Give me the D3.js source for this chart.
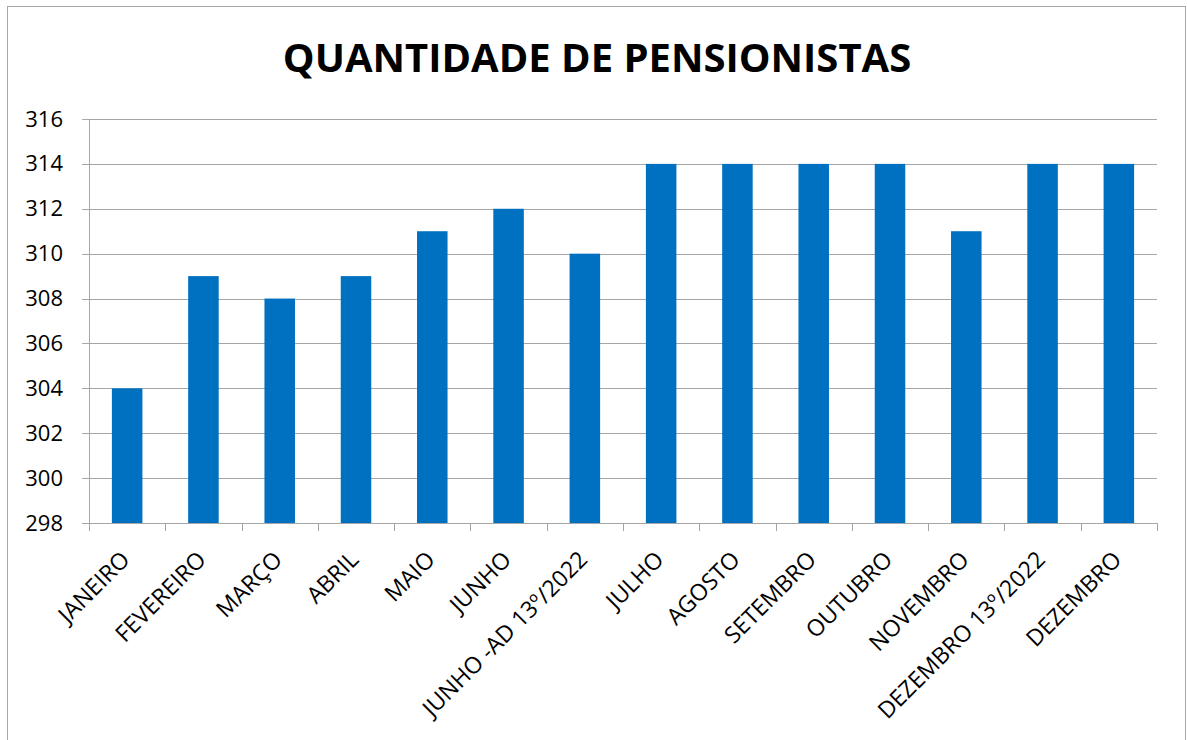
<!DOCTYPE html>
<html>
<head>
<meta charset="utf-8">
<script src="https://cdn.jsdelivr.net/npm/d3@7.9.0/dist/d3.min.js"></script>
<style>
  body { margin: 0; background: #fff; }
  text { font-family: "Open Sans", sans-serif; fill: #000; }
</style>
</head>
<body>
<div id="chart"></div>
<script>
const title = 'QUANTIDADE DE PENSIONISTAS';
const months = ['JANEIRO', 'FEVEREIRO', 'MARÇO', 'ABRIL', 'MAIO', 'JUNHO', 'JUNHO -AD 13º/2022',
  'JULHO', 'AGOSTO', 'SETEMBRO', 'OUTUBRO', 'NOVEMBRO', 'DEZEMBRO 13º/2022', 'DEZEMBRO'];
const pensionistas = [304, 309, 308, 309, 311, 312, 310, 314, 314, 314, 314, 311, 314, 314];
const yTicks = [298, 300, 302, 304, 306, 308, 310, 312, 314, 316];

const width = 1187;
const height = 740;
const margin = { top: 119, right: 30, bottom: 217, left: 89 };
const innerWidth = width - margin.left - margin.right;
const innerHeight = height - margin.top - margin.bottom;

const svg = d3.select('#chart')
  .append('svg')
  .attr('width', width)
  .attr('height', height);

// outer frame
svg.append('rect')
  .attr('x', 7.5).attr('y', 6.5)
  .attr('width', 1178).attr('height', 800)
  .attr('fill', 'none')
  .attr('stroke', '#a6a6a6');

svg.append('text')
  .attr('x', 597).attr('y', 72)
  .attr('text-anchor', 'middle')
  .style('font-size', '40px')
  .style('font-weight', 700)
  .text(title);

const g = svg.append('g')
  .attr('transform', `translate(${margin.left}, ${margin.top})`);

const x = d3.scaleBand()
  .domain(months)
  .range([0, innerWidth])
  .paddingInner(0.6)
  .paddingOuter(0.3);

const y = d3.scaleLinear()
  .domain([298, 316])
  .range([innerHeight, 0]);

// gridlines
g.selectAll('.grid')
  .data(yTicks)
  .join('line')
  .attr('class', 'grid')
  .attr('x1', -7).attr('x2', innerWidth)
  .attr('y1', d => Math.round(y(d)) + 0.5)
  .attr('y2', d => Math.round(y(d)) + 0.5)
  .attr('stroke', '#a6a6a6');

// y axis
const yAxis = g.append('g')
  .call(d3.axisLeft(y).tickValues(yTicks).tickSize(0).tickPadding(26));
yAxis.select('.domain').remove();
yAxis.selectAll('text')
  .style('font-size', '22px')
  .style('font-family', '"Open Sans", sans-serif');

g.append('line')
  .attr('x1', 0.5).attr('x2', 0.5)
  .attr('y1', 0).attr('y2', innerHeight)
  .attr('stroke', '#a6a6a6');

// bars
g.selectAll('.bar')
  .data(pensionistas)
  .join('rect')
  .attr('class', 'bar')
  .attr('x', (d, i) => x(months[i]))
  .attr('width', x.bandwidth())
  .attr('y', d => y(d))
  .attr('height', d => innerHeight - y(d))
  .attr('fill', '#0070c0');

// x axis
const step = x.step();
g.append('line')
  .attr('x1', 0).attr('x2', innerWidth)
  .attr('y1', innerHeight + 0.5).attr('y2', innerHeight + 0.5)
  .attr('stroke', '#a6a6a6');

g.selectAll('.xtick')
  .data(d3.range(months.length + 1))
  .join('line')
  .attr('class', 'xtick')
  .attr('x1', i => Math.round(i * step) + 0.5)
  .attr('x2', i => Math.round(i * step) + 0.5)
  .attr('y1', innerHeight)
  .attr('y2', innerHeight + 8)
  .attr('stroke', '#a6a6a6');

g.selectAll('.xlabel')
  .data(months)
  .join('text')
  .attr('class', 'xlabel')
  .attr('text-anchor', 'end')
  .attr('transform', d => `translate(${x(d) + x.bandwidth() / 2 + 4}, ${innerHeight + 38}) rotate(-45)`)
  .style('font-size', '23px')
  .text(d => d);
</script>
</body>
</html>
